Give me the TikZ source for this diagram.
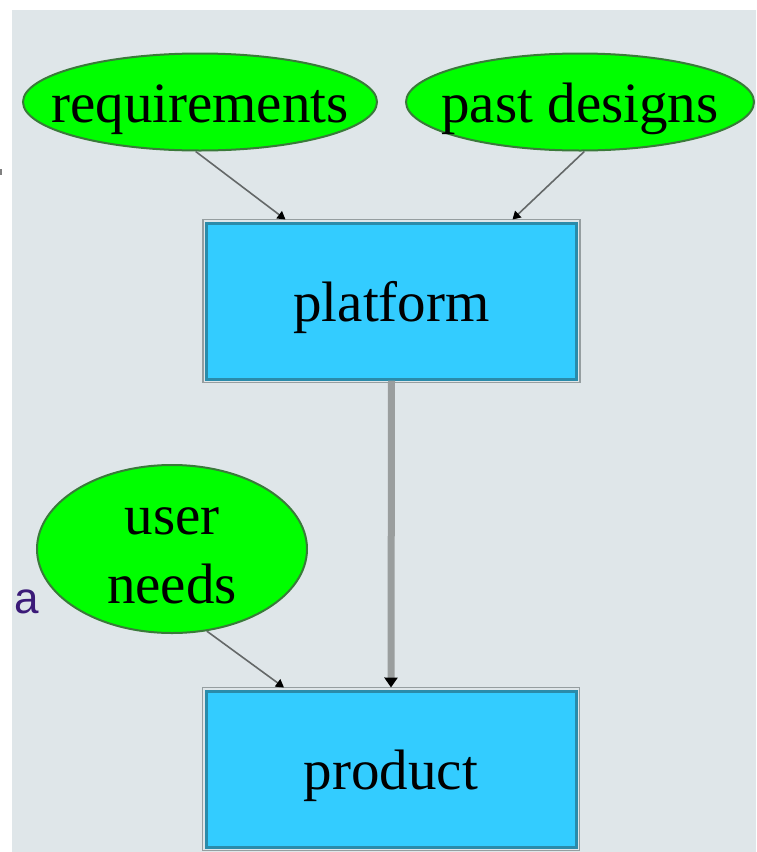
\documentclass[tikz,border=0pt]{standalone}
\usepackage{fontspec}
\setmainfont{Liberation Serif}
\newfontfamily\labelsans{Liberation Sans}
\usetikzlibrary{shapes.geometric,arrows.meta,calc}
\definecolor{bggrey}{RGB}{223,230,233}
\definecolor{boxfill}{RGB}{51,204,255}
\definecolor{boxline}{RGB}{42,139,170}
\definecolor{boxhalo}{RGB}{150,158,160}
\definecolor{ellfill}{RGB}{0,255,0}
\definecolor{ellline}{RGB}{58,122,58}
\definecolor{thinedge}{RGB}{100,104,104}
\definecolor{thickedge}{RGB}{154,158,158}
\definecolor{apurple}{RGB}{59,26,120}
\tikzset{
  txt/.style={font=\fontsize{57}{69}\selectfont, text height=42pt, text depth=2pt, inner sep=0pt},
  ell/.style={ellipse, fill=ellfill, draw=ellline, line width=2pt, inner sep=0pt},
  boxnode/.style={rectangle, fill=boxfill, draw=boxline, line width=3pt, inner sep=0pt, txt},
  thinarrow/.style={draw=thinedge, line width=1.6pt, -{Triangle[length=8pt,width=9pt,color=black]}},
  thickarrow/.style={draw=thickedge, line width=7pt, -{Triangle[length=10pt,width=13pt,color=black]}}
}
\begin{document}
\begin{tikzpicture}[x=1pt,y=-1pt]
\useasboundingbox (0,0) rectangle (756,852);
\fill[white] (0,0) rectangle (756,852);
\fill[bggrey] (12,10) rectangle (756,852);
\fill[gray] (0,169) rectangle (2,175);

\node[ell, minimum width=354pt, minimum height=97pt, label={[txt]center:requirements}] (req) at (200,102) {};
\node[ell, minimum width=348pt, minimum height=97pt, label={[txt]center:past designs}] (past) at (580,102) {};
\node[boxnode, minimum width=370pt, minimum height=156pt] (plat) at (391.5,301) {platform};
\node[ell, minimum width=270pt, minimum height=168pt, label={[font=\fontsize{57}{69}\selectfont, align=center, inner sep=0pt]center:\rule{0pt}{41pt}user\\needs}] (user) at (172,549) {};
\node[boxnode, minimum width=370pt, minimum height=156pt] (prod) at (391,769) {product};
\node[font=\labelsans\fontsize{44}{50}\selectfont, text=apurple, inner sep=0pt] (alabel) at (27,602) {a};

\draw[boxhalo, line width=1.5pt] ([shift={(-2,-2)}]plat.north west) rectangle ([shift={(2,2)}]plat.south east);
\draw[boxhalo, line width=1.5pt] ([shift={(-2,-2)}]prod.north west) rectangle ([shift={(2,2)}]prod.south east);

\draw[thinarrow] (req.-95) -- ($(plat.north)+(-106,-2)$);
\draw[thinarrow] (past.-85) -- ($(plat.north)+(121,-2)$);
\draw[thickarrow] (plat.south) -- ($(prod.north)+(0,-2)$);
\draw[thinarrow] (user.-67) -- ($(prod.north)+(-107,-2)$);
\end{tikzpicture}
\end{document}
